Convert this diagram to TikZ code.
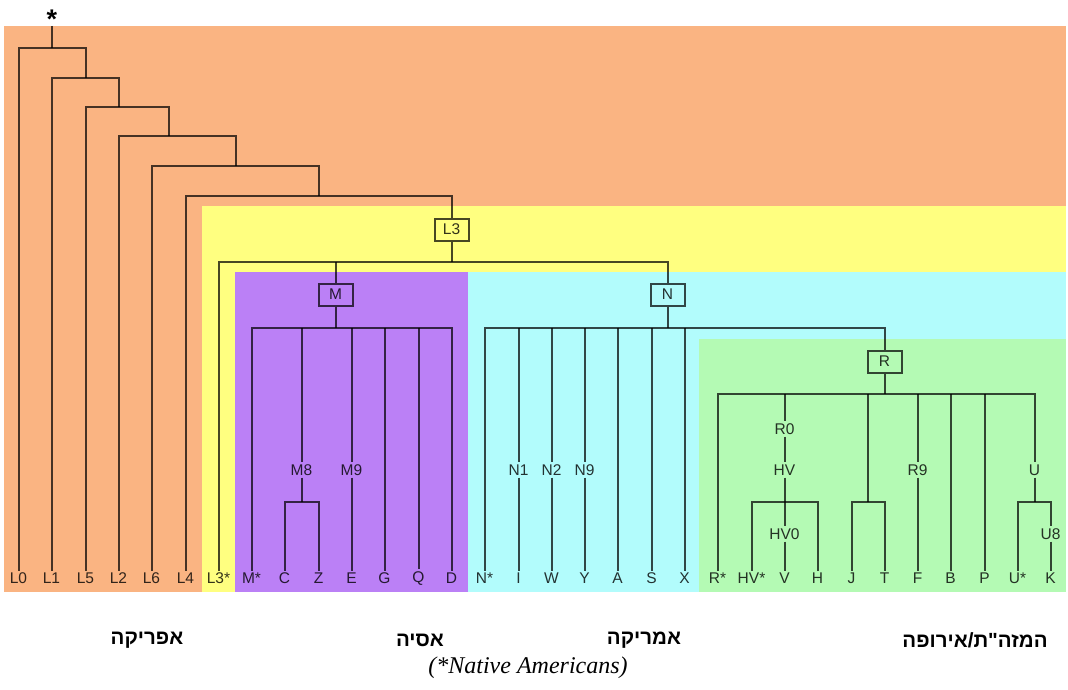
\documentclass[tikz,border=0pt]{standalone}
\usepackage{fontspec}
\setmainfont{Liberation Serif}
\newfontfamily\lab{Liberation Sans}
\newfontfamily\heb[Script=Hebrew]{Liberation Sans}
\TeXXeTstate=1
\definecolor{corange}{RGB}{250,180,130}
\definecolor{cyellow}{RGB}{255,255,128}
\definecolor{cpurple}{RGB}{187,128,246}
\definecolor{ccyan}{RGB}{178,252,252}
\definecolor{cgreen}{RGB}{180,250,180}
\tikzset{
  ln/.style={draw=black, draw opacity=0.72, line width=2pt},
  lf/.style={font=\lab\fontsize{15.5}{18}\selectfont, text=black, text opacity=0.8, inner sep=2pt},
  bx/.style={draw=black, draw opacity=0.72, line width=2pt, minimum width=34pt, minimum height=22pt, inner sep=0pt, font=\lab\fontsize{15.5}{18}\selectfont, text=black, text opacity=0.8},
  hebl/.style={font=\heb\bfseries\fontsize{20.5}{24}\selectfont, inner sep=0pt}
}
\begin{document}
\begin{tikzpicture}[x=1pt,y=-1pt]
\useasboundingbox (0,0) rectangle (1068,690);
% regions
\fill[corange] (4,26) rectangle (1066,592);
\fill[cyellow] (202,206) rectangle (1066,592);
\fill[cpurple] (235,272) rectangle (468,592);
\fill[ccyan] (468,272) rectangle (1066,592);
\fill[cgreen] (699,339) rectangle (1066,592);
% leaves
\foreach \i/\t in {0/L0,1/L1,2/L5,3/L2,4/L6,5/L4,6/L3*,7/M*,8/C,9/Z,10/E,11/G,12/Q,13/D,14/N*,15/I,16/W,17/Y,18/A,19/S,20/X,21/R*,22/HV*,23/V,24/H,25/J,26/T,27/F,28/B,29/P,30/U*,31/K}
  \node[lf] (t\i) at ({floor(18.5+33.3*\i)+0.5},578.3) {\t};
% bar levels
\coordinate (ytop) at (0,26);
\coordinate (yb1) at (0,48.5);
\coordinate (yb2) at (0,78.5);
\coordinate (yb3) at (0,107.5);
\coordinate (yb4) at (0,136.5);
\coordinate (yb5) at (0,165.5);
\coordinate (yb6) at (0,195.5);
\coordinate (yb7) at (0,261.5);
\coordinate (yM) at (0,327.5);
\coordinate (yR) at (0,393.5);
\coordinate (ysub) at (0,501.5);
\coordinate (c3) at (168.5,0);
\coordinate (c4) at (235.5,0);
\coordinate (cJT) at (867.5,0);
% star
\node[font=\lab\bfseries\fontsize{27}{27}\selectfont, inner sep=0pt] (star) at (51.8,19) {*};
\coordinate (root) at (t1.north |- ytop);
% boxes
\node[bx] (L3) at (451.5,229.5) {L3};
\node[bx] (M) at (335.5,294.5) {M};
\node[bx] (N) at (667.5,294.5) {N};
\node[bx] (R) at (884.5,361.5) {R};
% inner labels
\node[lf] (M8) at (301.5,470) {M8};
\node[lf] (M9) at (t10.north |- 0,470) {M9};
\node[lf] (N1) at (t15.north |- 0,470) {N1};
\node[lf] (N2) at (t16.north |- 0,470) {N2};
\node[lf] (N9) at (t17.north |- 0,470) {N9};
\node[lf] (R0) at (t23.north |- 0,429) {R0};
\node[lf] (HV) at (t23.north |- 0,470) {HV};
\node[lf] (HV0) at (t23.north |- 0,534) {HV0};
\node[lf] (R9) at (t27.north |- 0,470) {R9};
\node[lf] (Ul) at (1034.5,470) {U};
\node[lf] (U8) at (t31.north |- 0,534) {U8};
% African part
\draw[ln] (root) -- (root |- yb1);
\draw[ln] (t0.north) -- (t0.north |- yb1) -- (t2.north |- yb1) -- (t2.north |- yb2);
\draw[ln] (t1.north) -- (t1.north |- yb2) -- (t3.north |- yb2) -- (t3.north |- yb3);
\draw[ln] (t2.north) -- (t2.north |- yb3) -- (c3 |- yb3) -- (c3 |- yb4);
\draw[ln] (t3.north) -- (t3.north |- yb4) -- (c4 |- yb4) -- (c4 |- yb5);
\draw[ln] (t4.north) -- (t4.north |- yb5) -- (t9.north |- yb5) -- (t9.north |- yb6);
\draw[ln] (t5.north) -- (t5.north |- yb6) -- (L3.north |- yb6) -- (L3.north);
% L3
\draw[ln] (L3.south) -- (L3.south |- yb7);
\draw[ln] (t6.north) -- (t6.north |- yb7) -- (N.north |- yb7) -- (N.north);
\draw[ln] (M.north |- yb7) -- (M.north);
% M
\draw[ln] (M.south) -- (M.south |- yM);
\draw[ln] (t7.north) -- (t7.north |- yM) -- (t13.north |- yM) -- (t13.north);
\draw[ln] (M8.north |- yM) -- (M8.north);
\draw[ln] (M8.south) -- (M8.south |- ysub);
\draw[ln] (t8.north) -- (t8.north |- ysub) -- (t9.north |- ysub) -- (t9.north);
\draw[ln] (M9.north |- yM) -- (M9.north);
\draw[ln] (M9.south) -- (t10.north);
\draw[ln] (t11.north |- yM) -- (t11.north);
\draw[ln] (t12.north |- yM) -- (t12.north);
% N
\draw[ln] (N.south) -- (N.south |- yM);
\draw[ln] (t14.north) -- (t14.north |- yM) -- (R.north |- yM) -- (R.north);
\draw[ln] (N1.north |- yM) -- (N1.north);
\draw[ln] (N1.south) -- (t15.north);
\draw[ln] (N2.north |- yM) -- (N2.north);
\draw[ln] (N2.south) -- (t16.north);
\draw[ln] (N9.north |- yM) -- (N9.north);
\draw[ln] (N9.south) -- (t17.north);
\draw[ln] (t18.north |- yM) -- (t18.north);
\draw[ln] (t19.north |- yM) -- (t19.north);
\draw[ln] (t20.north |- yM) -- (t20.north);
% R
\draw[ln] (R.south) -- (R.south |- yR);
\draw[ln] (t21.north) -- (t21.north |- yR) -- (Ul.north |- yR) -- (Ul.north);
\draw[ln] (R0.north |- yR) -- (R0.north);
\draw[ln] (R0.south) -- (HV.north);
\draw[ln] (HV.south) -- (HV0.north);
\draw[ln] (HV0.south) -- (t23.north);
\draw[ln] (t22.north) -- (t22.north |- ysub) -- (t24.north |- ysub) -- (t24.north);
\draw[ln] (cJT |- yR) -- (cJT |- ysub);
\draw[ln] (t25.north) -- (t25.north |- ysub) -- (t26.north |- ysub) -- (t26.north);
\draw[ln] (R9.north |- yR) -- (R9.north);
\draw[ln] (R9.south) -- (t27.north);
\draw[ln] (t28.north |- yR) -- (t28.north);
\draw[ln] (t29.north |- yR) -- (t29.north);
\draw[ln] (Ul.south) -- (Ul.south |- ysub);
\draw[ln] (t30.north) -- (t30.north |- ysub) -- (t31.north |- ysub) -- (U8.north);
\draw[ln] (U8.south) -- (t31.north);
% bottom labels
\node[hebl] (afr) at (147,640) {\beginR אפריקה\endR};
\node[hebl] (asia) at (420,640) {\beginR אסיה\endR};
\node[hebl] (amer) at (644,640) {\beginR אמריקה\endR};
\node[hebl] (eur) at (975,640) {\beginR המזה"ת/אירופה\endR};
\node[font=\itshape\fontsize{24}{27}\selectfont, inner sep=0pt] (nat) at (528,668) {(*Native Americans)};
\end{tikzpicture}
\end{document}
